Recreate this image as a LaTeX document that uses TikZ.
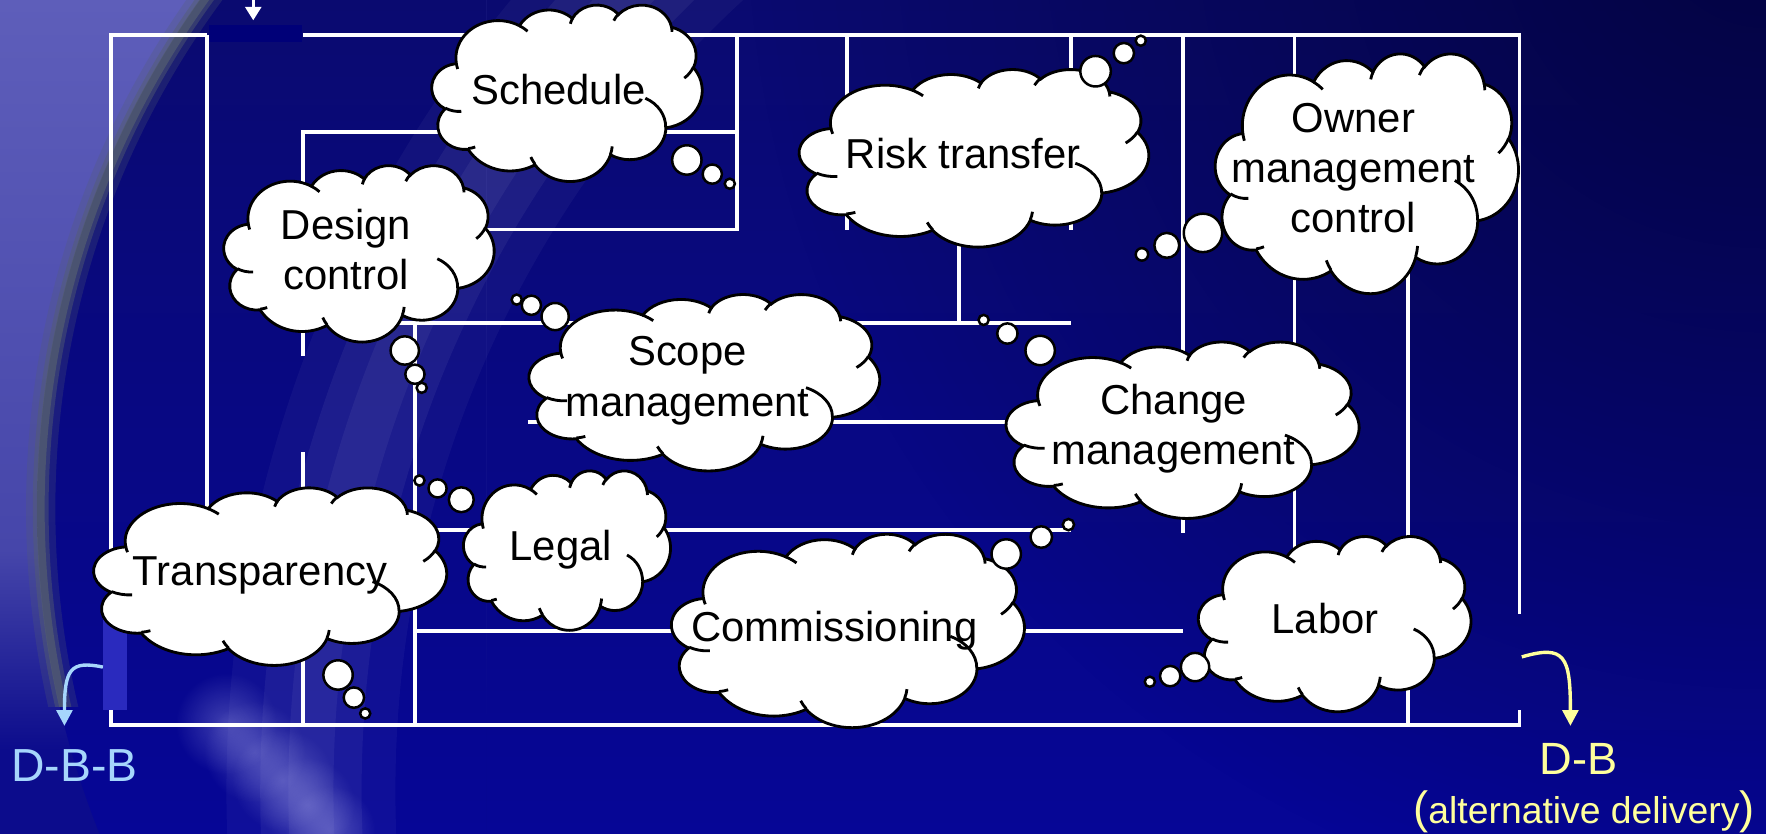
\documentclass[tikz,border=0pt]{standalone}
\usepackage{fontspec}
\setmainfont{Liberation Sans}
\usetikzlibrary{arrows.meta,fadings}

\definecolor{bgtop}{RGB}{10,10,112}
\definecolor{bgbot}{RGB}{6,6,150}
\definecolor{cnavy}{RGB}{12,12,140}
\definecolor{clavA}{RGB}{94,94,186}
\definecolor{clavB}{RGB}{70,70,170}
\definecolor{rimcol}{RGB}{84,94,112}
\definecolor{dbbblue}{RGB}{166,214,252}
\definecolor{dbyellow}{RGB}{255,255,156}
\definecolor{topnavy}{RGB}{0,0,120}
\definecolor{boxblue}{RGB}{42,42,190}
\definecolor{darkcorner}{RGB}{2,2,58}
\definecolor{glow}{RGB}{170,170,235}

\pgfdeclareverticalshading{crescent}{100bp}{color(0bp)=(cnavy); color(30bp)=(cnavy); color(42bp)=(clavB); color(75bp)=(clavA); color(100bp)=(clavA)}
\tikzfading[name=softdisc, inner color=transparent!0, outer color=transparent!100]

\newcommand\defcloudarc[5]{%
  \pgfmathsetmacro\cas{atan2((#2)*sin(#4),(#3)*cos(#4))}%
  \pgfmathsetmacro\cae{atan2((#2)*sin((#4)+(#5)),(#3)*cos((#4)+(#5)))}%
  \pgfmathsetmacro\cad{\cae-\cas}%
  \pgfmathsetmacro\cad{ifthenelse((#5)>0,ifthenelse(\cad<0,\cad+360,\cad),ifthenelse(\cad>0,\cad-360,\cad))}%
  \edef\cadoit{\noexpand\tikzset{#1/.style={start angle=\cas,delta angle=\cad,x radius=#2bp,y radius=#3bp}}}%
  \cadoit}

\defcloudarc{coA}{67.53}{91.90}{-190.4875}{123.7805}
\defcloudarc{coB}{53.33}{72.67}{-144.1024}{89.9452}
\defcloudarc{coC}{43.65}{59.45}{-145.8079}{99.7230}
\defcloudarc{coD}{48.57}{65.95}{-130.9861}{117.2417}
\defcloudarc{coE}{53.33}{72.73}{-78.7089}{109.0269}
\defcloudarc{coF}{67.75}{92.20}{-46.2673}{130.2690}
\defcloudarc{coG}{57.85}{78.67}{0.6250}{114.0333}
\defcloudarc{coH}{67.52}{92.15}{22.4516}{115.1726}
\defcloudarc{coI}{77.20}{105.43}{66.2426}{75.7110}
\defcloudarc{coJ}{43.60}{59.18}{-274.9421}{146.7356}
\defcloudarc{coK}{43.45}{59.45}{-246.8285}{152.5189}
\defcloudarc{hkA}{43.45}{59.45}{86.7420}{26.4295}
\defcloudarc{hkB}{43.60}{59.18}{73.6105}{11.4475}
\defcloudarc{hkC}{67.52}{92.15}{137.6242}{14.0811}
\defcloudarc{hkD}{67.52}{92.15}{6.4533}{15.9984}
\defcloudarc{hkE}{57.85}{78.67}{-70.2924}{70.9174}
\defcloudarc{hkF}{53.33}{72.73}{30.3180}{27.7515}
\defcloudarc{hkG}{48.57}{65.95}{-13.7443}{14.8589}
\defcloudarc{hkH}{48.57}{65.95}{-149.1815}{18.1954}
\defcloudarc{hkI}{43.65}{59.45}{-163.4943}{17.6864}
\defcloudarc{hkJ}{67.53}{91.90}{-66.7070}{12.3194}
\defcloudarc{hkK}{67.53}{91.90}{157.6544}{11.8519}

\newcommand\thoughtcloud[4]{%
  \begin{scope}[shift={(#1,#2)},xscale=#3/432,yscale=#4/432]
    \filldraw[cloudfill] (39,143.7) arc[coA] arc[coB] arc[coC] arc[coD] arc[coE] arc[coF] arc[coG] arc[coH] arc[coI] arc[coJ] arc[coK] -- cycle;
    \draw[cloudhook] (46.93,261.77) arc[hkA] (69.28,348.99) arc[hkB] (164.78,390.90) arc[hkC] (288.27,347.51) arc[hkD] (341.29,229.54) arc[hkE] (417.98,153.54) arc[hkF] (383.24,54.26) arc[hkG] (290.78,39.52) arc[hkH] (221.41,47.20) arc[hkI] (140.00,51.92) arc[hkJ] (41.27,157.89) arc[hkK];
  \end{scope}}

\newcommand\bubbles[9]{%
  \draw[bub] (#1,#2) ellipse [x radius=#3, y radius=#3];
  \draw[bub] (#4,#5) ellipse [x radius=#6, y radius=#6];
  \draw[bub] (#7,#8) ellipse [x radius=#9, y radius=#9];}

\newcommand\bigparen[1]{{\fontsize{40bp}{40bp}\selectfont #1}}

\begin{document}
\begin{tikzpicture}[x=1bp,y=1bp,yscale=-1,
  wline/.style={white, line width=3.4bp},
  cloudfill/.style={fill=white, draw=black, line width=2.5bp},
  cloudhook/.style={draw=black, line width=2.5bp},
  bub/.style={fill=white, draw=black, line width=2.2bp},
  ctext/.style={font=\fontsize{37bp}{44.5bp}\selectfont, text=black, inner sep=0pt, align=center, anchor=base},
  dbbarrow/.style={dbbblue, line width=3bp, -{Triangle[width=14bp,length=14bp]}},
  dbarrow/.style={dbyellow, line width=3bp, -{Triangle[width=14bp,length=14bp]}},
  toparrow/.style={white, line width=3bp, -{Triangle[width=14bp,length=12bp]}},
]
\useasboundingbox (0,0) rectangle (1562,737);

% ---------- background ----------
\begin{scope}[yscale=-1]
  \shade[top color=bgtop, bottom color=bgbot] (0,0) rectangle (1562,-737);
  \begin{scope}
    \clip (0,0) rectangle (1562,-737);
    \fill[darkcorner, opacity=0.85, path fading=softdisc] (1562,80) circle (900);
  \end{scope}
  \begin{scope}
    \clip (0,0) rectangle (430,-737);
    \shade[shading=crescent] (0,0) rectangle (430,-737);
  \end{scope}
  \begin{scope}
    \clip (808,-450) circle (775);
    \clip (0,0) rectangle (430,-737);
    \shade[top color=bgtop, bottom color=bgbot] (0,0) rectangle (1562,-737);
  \end{scope}
  \begin{scope}
    \clip (0,0) rectangle (430,-625);
    \draw[rimcol, line width=26, opacity=0.25] (808,-450) circle (772);
    \draw[rimcol, line width=14, opacity=0.45] (808,-450) circle (772);
    \draw[rimcol, line width=7, opacity=0.7] (808,-450) circle (772);
  \end{scope}
  \begin{scope}
    \clip (0,0) rectangle (700,-737);
    \draw[white, line width=150, opacity=0.04] (1300,-700) circle (1025);
    \draw[white, line width=90, opacity=0.05] (1300,-700) circle (1025);
    \draw[white, line width=40, opacity=0.05] (1300,-700) circle (1025);
  \end{scope}
  \foreach \px/\py/\pr in {200/-640/45, 225/-665/45, 250/-690/45, 272/-712/42, 292/-735/40}
    \fill[glow, opacity=0.35, path fading=softdisc] (\px,\py) circle (\pr);
\end{scope}

% ---------- white frame lines ----------
\draw[wline] (183,31) -- (98,31) -- (98,641) -- (1344,641) -- (1344,628);
\draw[wline] (268,31) -- (1344,31) -- (1344,543);
\draw[wline] (183,31) -- (183,560);
\draw[wline] (268,315) -- (268,117) -- (652,117);
\draw[wline] (268,400) -- (268,641);
\draw[wline] (652,31) -- (652,203) -- (400,203);
\draw[wline] (330,286) -- (947,286);
\draw[wline] (367,286) -- (367,641);
\draw[wline] (749,31) -- (749,203);
\draw[wline] (848,180) -- (848,286);
\draw[wline] (947,31) -- (947,203);
\draw[wline] (467,373) -- (920,373);
\draw[wline] (367,469) -- (947,469);
\draw[wline] (367,558) -- (1046,558);
\draw[wline] (1046,31) -- (1046,471);
\draw[wline] (1145,31) -- (1145,500);
\draw[wline] (1245,150) -- (1245,641);

\fill[topnavy] (185,22) rectangle (267,37);
\fill[boxblue] (91,548) rectangle (112,628);

% ---------- arrows ----------
\coordinate (topa) at (224,-4);
\coordinate (topb) at (224,18);
\draw[toparrow] (topa) -- (topb);
\coordinate (dbbs) at (91,590);
\coordinate (dbbt) at (57,642);
\draw[dbbarrow] (dbbs) .. controls (62,584) and (57,592) .. (dbbt);
\coordinate (dbs) at (1346,581);
\coordinate (dbt) at (1389,642);
\draw[dbarrow] (dbs) .. controls (1384,570) and (1389,580) .. (dbt);

% ---------- clouds ----------
\thoughtcloud{382}{4}{239}{156}
\bubbles{607.5}{141.5}{13}{630}{154}{8.5}{645.5}{162.5}{4.5}
\thoughtcloud{198}{146}{239}{156}
\bubbles{358}{310}{12.5}{367}{331}{8.5}{373}{343}{4.5}
\thoughtcloud{707}{61}{309}{157}
\bubbles{969}{63}{13.5}{994}{47}{9}{1009}{36}{4.5}
\thoughtcloud{1075}{47}{268}{212}
\bubbles{1064}{206}{17}{1032}{217}{11}{1010}{225}{5.5}
\thoughtcloud{468}{260}{310}{156}
\bubbles{491}{280}{12}{470}{270}{8.5}{457}{265}{4.5}
\thoughtcloud{890}{302}{312}{156}
\bubbles{920}{310}{13}{891}{295}{9}{870}{283}{4.5}
\thoughtcloud{410}{416}{183}{141}
\bubbles{408}{442}{11}{387}{432}{8}{371}{425}{4.5}
\thoughtcloud{83}{431}{312}{157}
\bubbles{299}{597}{13}{313}{617}{9}{323}{631}{4.5}
\thoughtcloud{594}{472}{312}{171}
\bubbles{890}{490}{13}{921}{475}{9.5}{945}{464}{5}
\thoughtcloud{1060}{474}{241}{155}
\bubbles{1057}{590}{12.5}{1035}{598}{9}{1017}{603}{4.5}

% ---------- texts ----------
\node[ctext] (schedule) at (494,92) {Schedule};
\node[ctext] (design) at (306,256) {Design\\control};
\node[ctext] (risk) at (852,149) {Risk transfer};
\node[ctext] (owner) at (1197,206) {Owner\\management\\control};
\node[ctext] (scope) at (608,368) {Scope\\management};
\node[ctext] (change) at (1038,411) {Change\\management};
\node[ctext] (legal) at (496,496) {Legal};
\node[ctext] (transp) at (230,518) {Transparency};
\node[ctext] (commis) at (738,567) {Commissioning};
\node[ctext] (labor) at (1172,560) {Labor};

\node[font=\fontsize{41bp}{48bp}\selectfont, text=dbbblue, inner sep=0pt, anchor=base] (dbb) at (66,691) {D-B-B};
\node[font=\fontsize{40bp}{48bp}\selectfont, text=dbyellow, inner sep=0pt, anchor=base] (db) at (1396,685) {D-B};
\node[font=\fontsize{33bp}{40bp}\selectfont, text=dbyellow, inner sep=0pt, anchor=base] (alt) at (1401,728) {\bigparen{(}alternative delivery\bigparen{)}};
\end{tikzpicture}
\end{document}
